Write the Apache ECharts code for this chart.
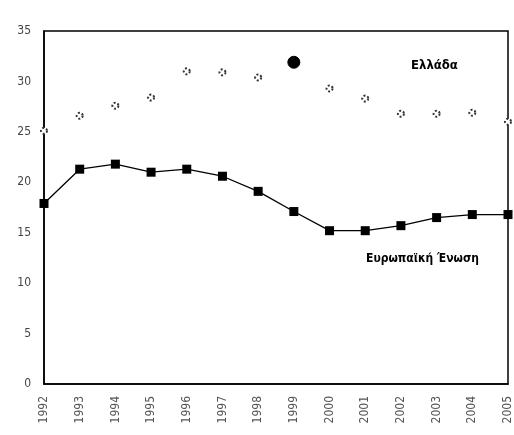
<!DOCTYPE html>
<html>
<head>
<meta charset="utf-8">
<script src="https://cdn.jsdelivr.net/npm/echarts@6/dist/echarts.min.js"></script>
<style>
  html, body { margin: 0; padding: 0; background: #fff; }
  #chart { width: 514px; height: 435px; }
</style>
</head>
<body>
<div id="chart"></div>
<script>
// Years on the horizontal axis
const years = ['1992','1993','1994','1995','1996','1997','1998','1999','2000','2001','2002','2003','2004','2005'];
// Greece (Ελλάδα)
const greece = [25.1, 26.6, 27.6, 28.4, 31.0, 30.9, 30.4, 31.9, 29.3, 28.3, 26.8, 26.8, 26.9, 26.0];
// European Union (Ευρωπαϊκή Ένωση)
const eu = [17.9, 21.3, 21.8, 21.0, 21.3, 20.6, 19.1, 17.1, 15.2, 15.2, 15.7, 16.5, 16.8, 16.8];
// Vertical axis ticks
const yTicks = [0, 5, 10, 15, 20, 25, 30, 35];
const highlightYear = '1999';

const chart = echarts.init(document.getElementById('chart'), null, { renderer: 'canvas' });

const greeceData = greece.map((v, i) => years[i] === highlightYear
  ? { value: v, symbol: 'circle', symbolSize: 12, itemStyle: { color: '#000', borderColor: '#000', borderType: 'solid', borderWidth: 1 } }
  : v);

chart.setOption({
  animation: false,
  backgroundColor: '#fff',
  grid: {
    left: 44, right: 2, top: 31, bottom: 51,
    show: true, borderColor: '#000', borderWidth: 1.5, backgroundColor: 'transparent'
  },
  xAxis: {
    type: 'category',
    data: years,
    boundaryGap: false,
    axisLine: { lineStyle: { color: '#000', width: 1.5 } },
    axisTick: { show: false },
    axisLabel: {
      rotate: 90, margin: 12, color: '#555',
      fontFamily: 'DejaVu Sans Condensed', fontSize: 12
    },
    splitLine: { show: false }
  },
  yAxis: {
    type: 'value',
    min: yTicks[0], max: yTicks[yTicks.length - 1], interval: 5,
    axisLine: { show: true, lineStyle: { color: '#000', width: 1.5 } },
    axisTick: { show: false },
    axisLabel: {
      margin: 13, color: '#444',
      fontFamily: 'DejaVu Sans Condensed', fontSize: 12
    },
    splitLine: { show: false }
  },
  series: [
    {
      name: 'Ελλάδα',
      type: 'line',
      data: greeceData,
      symbol: 'emptyCircle',
      symbolSize: 6,
      lineStyle: { opacity: 0 },
      itemStyle: { color: '#333', borderColor: '#333', borderWidth: 1.5, borderType: 'dotted' },
      z: 1
    },
    {
      name: 'Ευρωπαϊκή Ένωση',
      type: 'line',
      data: eu,
      symbol: 'rect',
      symbolSize: 9,
      lineStyle: { color: '#000', width: 1.3 },
      itemStyle: { color: '#000' },
      z: 4
    }
  ],
  graphic: [
    {
      type: 'text', left: 411, top: 59,
      style: { text: 'Ελλάδα', fontFamily: 'DejaVu Sans Condensed', fontWeight: 'bold', fontSize: 13, fill: '#000' }
    },
    {
      type: 'text', left: 366, top: 253,
      style: { text: 'Ευρωπαϊκή Ένωση', fontFamily: 'DejaVu Sans Condensed', fontWeight: 'bold', fontSize: 12, fill: '#000' }
    }
  ]
});
</script>
</body>
</html>
